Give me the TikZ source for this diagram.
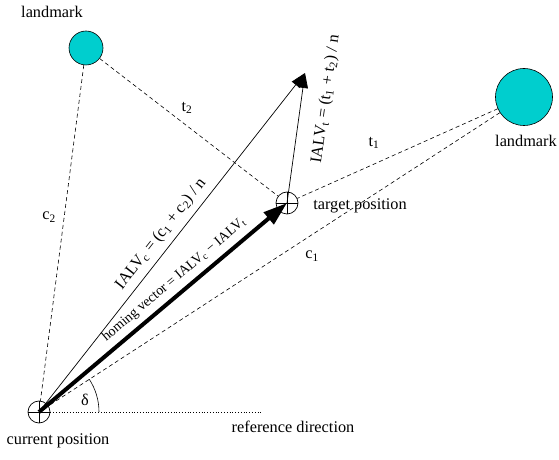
\documentclass[tikz,border=0pt]{standalone}
\usepackage{fontspec}
\setmainfont{Liberation Serif}
\usetikzlibrary{arrows.meta}
\definecolor{lmcyan}{RGB}{0,206,206}
\begin{document}
\begin{tikzpicture}[x=1pt,y=1pt,
  lbl/.style={font=\fontsize{16.3}{19}\selectfont, inner sep=0pt},
  smalllbl/.style={font=\fontsize{14}{16}\selectfont, inner sep=0pt},
  landmarkdot/.style={circle, draw, fill=lmcyan, line width=0.6pt, inner sep=0pt},
  posmark/.style={circle, draw, minimum size=22pt, inner sep=0pt, line width=0.7pt,
    path picture={\draw[line width=0.6pt] (path picture bounding box.north) -- (path picture bounding box.south)
      (path picture bounding box.west) -- (path picture bounding box.east);}},
  sight/.style={dash pattern=on 4pt off 3pt, line width=0.6pt},
  thinarrow/.style={-{Triangle[length=15pt,width=10pt]}, line width=0.7pt},
  homing/.style={-{Triangle[length=24pt,width=15pt]}, line width=4pt}
]
\useasboundingbox (0,0) rectangle (559,460);
% landmarks and positions
\node[landmarkdot, minimum size=34pt] (lmA) at (86,412) {};
\node[landmarkdot, minimum size=57pt] (lmB) at (524,363) {};
\node[posmark] (cur) at (39,48) {};
\node[posmark] (tgt) at (287,257) {};
\coordinate (tip) at (305,387);
\coordinate (refend) at (263,48);
% lines of sight
\draw[sight] (lmA) -- (cur);
\draw[sight] (lmA) -- (tgt);
\draw[sight] (lmB) -- (tgt);
\draw[sight] (lmB) -- (cur);
% reference direction and angle
\draw[dotted, line width=0.8pt] (cur) -- (refend);
\draw[line width=0.6pt] (cur.center) ++(60,0) arc[start angle=0, end angle=33, radius=60];
% vectors
\draw[thinarrow] (cur.center) -- (tip);
\draw[thinarrow] (tgt.center) -- (tip);
\draw[homing] (cur.center) -- (tgt.center);
% labels
\node[lbl] (lmAlbl) at (52,448) {landmark};
\node[lbl] (lmBlbl) at (526,319) {landmark};
\node[lbl] (curlbl) at (58,19) {current position};
\node[lbl] (tgtlbl) at (360,254) {target position};
\node[lbl] (reflbl) at (293,33) {reference direction};
\node[lbl] (c2lbl) at (49,243) {c\textsubscript{2}};
\node[lbl] (t2lbl) at (187,352) {t\textsubscript{2}};
\node[lbl] (t1lbl) at (374,317) {t\textsubscript{1}};
\node[lbl] (c1lbl) at (312,204) {c\textsubscript{1}};
\node[lbl] (dlbl) at (85,60) {δ};
\node[lbl, rotate=51.9] (ialvc) at (161,226) {IALV\textsubscript{c} = (c\textsubscript{1} + c\textsubscript{2}) / n};
\node[lbl, rotate=82] (ialvt) at (326,361) {IALV\textsubscript{t} = (t\textsubscript{1} + t\textsubscript{2}) / n};
\node[smalllbl, rotate=40.4] (hvlbl) at (174,180) {homing vector = IALV\textsubscript{c} − IALV\textsubscript{t}};
\end{tikzpicture}
\end{document}
